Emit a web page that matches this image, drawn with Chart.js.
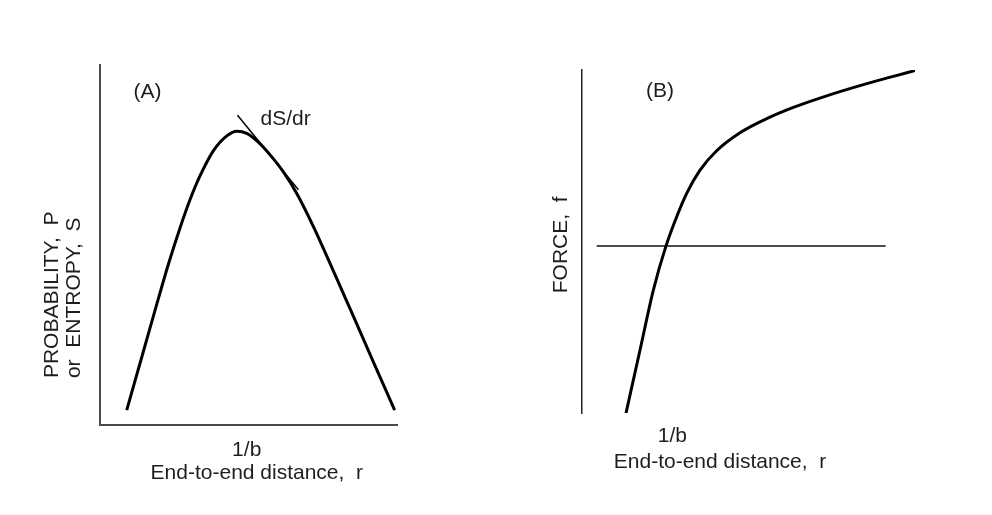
<!DOCTYPE html>
<html><head><meta charset="utf-8">
<script src="https://cdn.jsdelivr.net/npm/chart.js@4.4.1/dist/chart.umd.min.js"></script>
<style>
html,body{margin:0;padding:0;background:#fff;width:992px;height:515px;overflow:hidden}
canvas{position:absolute;top:0}
#cA{left:0}
#cB{left:496px}
</style></head><body>
<canvas id="cA" width="496" height="515"></canvas>
<canvas id="cB" width="496" height="515"></canvas>
<script>
// ---- Panel A: probability / entropy vs end-to-end distance ----
const distA = [0.90, 1.46, 1.91, 2.30, 2.70, 3.03, 3.37, 3.82, 4.27, 4.61, 4.94, 5.34, 5.75, 6.18, 6.63, 7.19, 7.66, 8.43, 9.21, 9.92];
const entropyA = [0.40, 2.03, 3.34, 4.45, 5.48, 6.25, 6.92, 7.62, 8.03, 8.16, 8.10, 7.85, 7.48, 7.02, 6.42, 5.50, 4.64, 3.20, 1.73, 0.40];
const tangentDist = [4.63, 6.68];
const tangentS = [8.60, 6.53];
// ---- Panel B: force vs end-to-end distance ----
const distB = [1.33, 1.75, 2.15, 2.53, 2.85, 3.15, 3.55, 4.05, 4.75, 5.55, 6.35, 7.35, 8.35, 9.35, 10.0];
const forceB = [-9.5, -5.92, -2.51, 0, 1.66, 2.99, 4.31, 5.41, 6.43, 7.23, 7.87, 8.53, 9.11, 9.64, 9.97];
const zeroDist = [0.45, 9.12];
const zeroForce = [0, 0];
// ---- tick labels ----
const tickLabels = ['1/b'];
const tickValueA = [4.94];
const tickValueB = [2.72];
// ---- texts ----
const panelA = '(A)';
const panelB = '(B)';
const slopeLabel = 'dS/dr';
const xTitle = 'End-to-end distance,  r';
const yTitleA = ['PROBABILITY,  P', 'or  ENTROPY,  S'];
const yTitleB = 'FORCE,  f';

const FONT_FAMILY = '"Liberation Sans", Arial, sans-serif';
const FONT = '21px ' + FONT_FAMILY;
const TEXT_COLOR = '#1e1e1e';

function pts(xs, ys) { return xs.map((x, i) => ({x: x, y: ys[i]})); }

function textPlugin(items) {
  return {
    id: 'panelText',
    afterDraw(chart) {
      const ctx = chart.ctx, sx = chart.scales.x, sy = chart.scales.y;
      items.forEach(it => {
        ctx.save();
        ctx.font = FONT;
        ctx.fillStyle = TEXT_COLOR;
        ctx.textAlign = it.align || 'center';
        ctx.textBaseline = 'alphabetic';
        ctx.translate(sx.getPixelForValue(it.x), sy.getPixelForValue(it.y));
        if (it.rotate) ctx.rotate(it.rotate * Math.PI / 180);
        ctx.fillText(it.text, 0, 0);
        ctx.restore();
      });
    }
  };
}

function fixedTicks(values) {
  return function(scale) { scale.ticks = values.map(v => ({value: v})); };
}

Chart.defaults.font.family = FONT_FAMILY;
Chart.defaults.color = TEXT_COLOR;

new Chart(document.getElementById('cA'), {
  type: 'scatter',
  data: {
    datasets: [
      {data: pts(distA, entropyA), showLine: true, borderColor: '#000', borderWidth: 3, pointRadius: 0, cubicInterpolationMode: 'monotone', fill: false},
      {data: pts(tangentDist, tangentS), showLine: true, borderColor: '#000', borderWidth: 1.5, pointRadius: 0, fill: false}
    ]
  },
  options: {
    responsive: false, animation: false, devicePixelRatio: 1,
    layout: {padding: {top: 65, right: 99, left: 0, bottom: 0}},
    plugins: {legend: {display: false}, tooltip: {enabled: false}},
    scales: {
      x: {
        type: 'linear', min: 0, max: 10,
        grid: {display: false, drawTicks: false, tickLength: 0},
        border: {display: true, color: '#4a4a4a', width: 2},
        afterBuildTicks: fixedTicks(tickValueA),
        afterFit: s => { s.height = 90.5; },
        ticks: {font: {size: 21}, color: TEXT_COLOR, padding: 13, maxRotation: 0, callback: () => tickLabels[0]}
      },
      y: {
        type: 'linear', min: 0, max: 10,
        grid: {display: false, drawTicks: false, tickLength: 0},
        border: {display: true, color: '#4a4a4a', width: 2},
        afterFit: s => { s.width = 100; },
        ticks: {display: false}
      }
    }
  },
  plugins: [textPlugin([
    {text: panelA, x: 1.60, y: 9.08},
    {text: slopeLabel, x: 6.25, y: 8.33},
    {text: xTitle, x: 5.28, y: -1.52},
    {text: yTitleA[0], x: -1.42, y: 1.29, rotate: -90, align: 'left'},
    {text: yTitleA[1], x: -0.67, y: 1.29, rotate: -90, align: 'left'}
  ])]
});

new Chart(document.getElementById('cB'), {
  type: 'scatter',
  data: {
    datasets: [
      {data: pts(distB, forceB), showLine: true, borderColor: '#000', borderWidth: 3, pointRadius: 0, cubicInterpolationMode: 'monotone', fill: false},
      {data: pts(zeroDist, zeroForce), showLine: true, borderColor: '#111', borderWidth: 1.5, pointRadius: 0, fill: false}
    ]
  },
  options: {
    responsive: false, animation: false, devicePixelRatio: 1,
    layout: {padding: {top: 70, right: 77, left: 0, bottom: 0}},
    plugins: {legend: {display: false}, tooltip: {enabled: false}},
    scales: {
      x: {
        type: 'linear', min: 0, max: 10,
        grid: {display: false, drawTicks: false, tickLength: 0},
        border: {display: false},
        afterBuildTicks: fixedTicks(tickValueB),
        afterFit: s => { s.height = 102; },
        ticks: {font: {size: 21}, color: TEXT_COLOR, padding: 11, maxRotation: 0, callback: () => tickLabels[0]}
      },
      y: {
        type: 'linear', min: -9.5, max: 10,
        grid: {display: false, drawTicks: false, tickLength: 0},
        border: {display: true, color: '#222', width: 1.5},
        afterFit: s => { s.width = 85.7; },
        ticks: {display: false}
      }
    }
  },
  plugins: [textPlugin([
    {text: panelB, x: 2.35, y: 8.49},
    {text: xTitle, x: 4.15, y: -12.63},
    {text: yTitleB, x: -0.45, y: -2.69, rotate: -90, align: 'left'}
  ])]
});
</script>
</body></html>
